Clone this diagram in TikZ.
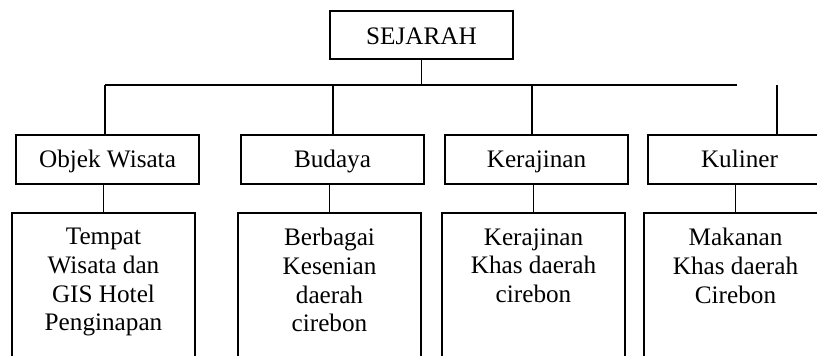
\documentclass[tikz,border=0pt]{standalone}
\usepackage{fontspec}
\setmainfont{Liberation Serif}
\usepackage{tikz}
\usetikzlibrary{positioning}
\tikzset{
  conn/.style={line width=0.8pt,draw=black},
  boxline/.style={draw=black,line width=0.8pt},
  labelfont/.style={font=\fontsize{12.6pt}{14.3pt}\selectfont}
}

\begin{document}
\begin{tikzpicture}[
  x=0.5pt,y=0.5pt,
  topbox/.style={boxline,labelfont,minimum width=91.5pt,minimum height=24pt,inner sep=0pt,
                 text height=11pt,text depth=2pt},
  midbox/.style={boxline,labelfont,minimum width=91.5pt,minimum height=24.5pt,inner sep=0pt,
                 text height=9.5pt,text depth=2pt},
  leafbox/.style={boxline,minimum width=91.5pt,minimum height=85pt,anchor=north,inner sep=0pt},
  leaftext/.style={labelfont,align=center,inner sep=0pt}
]

\useasboundingbox (0,0) rectangle (817,355);
\clip (0,0) rectangle (817,355);

% root
\node[topbox] (sejarah) at (421.5,320) {SEJARAH};

\coordinate (busL) at (105,270);
\coordinate (busR) at (737,270);

\draw[conn] (sejarah.south) -- (sejarah.south |- busL);
\draw[conn] (busL) -- (busR);

% second row
\foreach \n/\x/\lab in {objek/107.5/Objek Wisata,budaya/332.5/Budaya,
                        kerajinan/536.5/Kerajinan,kuliner/739.5/Kuliner}{
  \node[midbox] (\n) at (\x,195.5) {\lab};
}

\foreach \n/\x in {objek/105,budaya/333,kerajinan/532,kuliner/777}{
  \coordinate (s) at (\x,270);
  \draw[conn] (s) -- (s |- \n.north);
}

% third row
\foreach \n/\x/\lab in {objek/103.5/{Tempat\\Wisata dan\\GIS Hotel\\Penginapan},
                        budaya/329.5/{Berbagai\\Kesenian\\daerah\\cirebon},
                        kerajinan/533.5/{Kerajinan\\Khas daerah\\cirebon},
                        kuliner/735.5/{Makanan\\Khas daerah\\Cirebon}}{
  \node[leafbox] (\n-leaf) at (\x,143) {};
  \node[leaftext,below=8pt of \n-leaf.north] (\n-txt) {\lab};
  \draw[conn] (\n.south -| \n-leaf.north) -- (\n-leaf.north);
}

\end{tikzpicture}
\end{document}
